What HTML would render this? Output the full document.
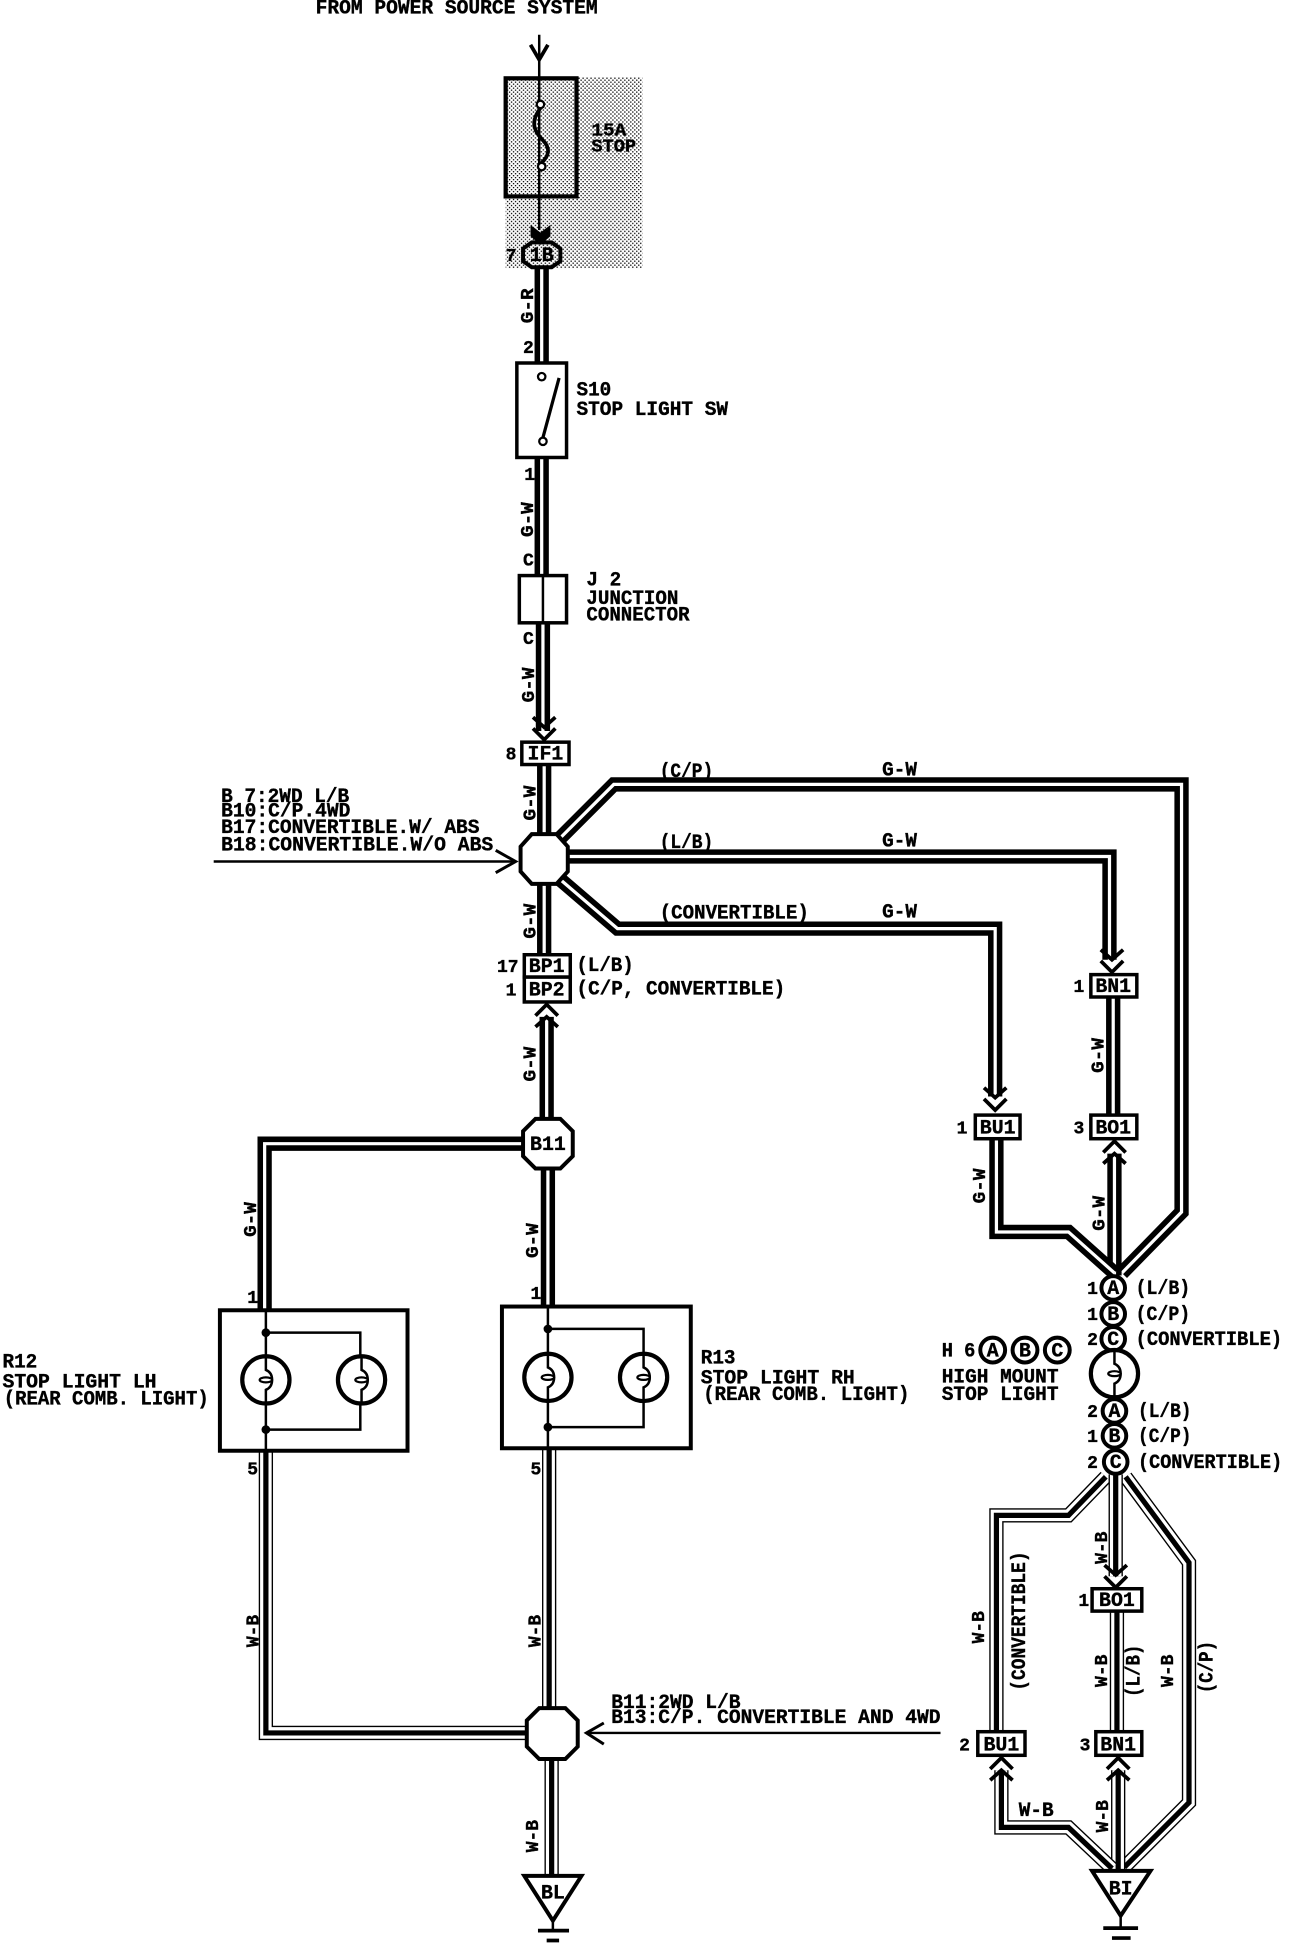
<!DOCTYPE html>
<html><head><meta charset="utf-8"><style>
html,body{margin:0;padding:0;background:#fff}
svg{display:block}
text{font-family:"Liberation Mono",monospace;font-weight:bold;font-size:16px;fill:#000;stroke:#000;stroke-width:.3}
.m{text-anchor:middle}
.s{font-size:14.5px}
.m.s{font-size:16px}
.a,.b,.c,.d,.e,.l,.t{fill:none;stroke-linejoin:miter}
.a{stroke:#000;stroke-width:11.5}
.b{stroke:#fff;stroke-width:2.6}
.c{stroke:#000;stroke-width:11.5}
.d{stroke:#fff;stroke-width:9.3}
.e{stroke:#000;stroke-width:4.2}
.l{stroke:#000;stroke-width:2}
.t{stroke:#000;stroke-width:3}
.n{fill:#fff;stroke:#000;stroke-width:3.2}
</style></head><body>
<svg xmlns="http://www.w3.org/2000/svg" width="1312" height="1948" viewBox="0 0 1056 1567" preserveAspectRatio="none">
<defs>
<pattern id="st" width="3.2" height="3.2" patternUnits="userSpaceOnUse"><rect width="3.2" height="3.2" fill="#fff"/><rect x="0" y="0" width="1.05" height="1.05" fill="#000"/><rect x="1.6" y="1.6" width="1.05" height="1.05" fill="#000"/></pattern>
<g id="dn"><path class="t" d="M-9,-18 L0,-10 L9,-18"/><path class="t" d="M-9,-9 L0,0 L9,-9"/></g>
<g id="up"><path class="t" d="M-9,18 L0,10 L9,18"/><path class="t" d="M-9,9 L0,0 L9,9"/></g>
<g id="bulb"><circle r="19" fill="#fff" stroke="#000" stroke-width="3.4"/><path class="l" d="M0,-19 V-8 Q5,-6 5,0 Q5,6 0,8 V19"/><ellipse cx="0" cy="0" rx="5" ry="2" fill="#fff" stroke="#000" stroke-width="1.8"/></g>
</defs>
<rect width="1056" height="1567" fill="#fff"/>
<rect x="407" y="62" width="110" height="154" fill="url(#st)"/>
<text x="254" y="11" textLength="227" lengthAdjust="spacingAndGlyphs">FROM POWER SOURCE SYSTEM</text>

<!-- fuse -->
<path class="l" d="M434,28 V185"/>
<path class="t" d="M427,36 L434,48 L441,36"/>
<rect x="407" y="63" width="57" height="95" fill="none" stroke="#000" stroke-width="3.4"/>
<path d="M435,87 C425,100 432,107 437,113 C444,120 441,126 436,131" fill="none" stroke="#000" stroke-width="3"/>
<circle cx="435" cy="84" r="3" fill="#fff" stroke="#000" stroke-width="1.8"/>
<circle cx="436" cy="134" r="3" fill="#fff" stroke="#000" stroke-width="1.8"/>
<text x="476" y="109" textLength="28" lengthAdjust="spacingAndGlyphs" class="s">15A</text>
<text x="476" y="122" textLength="36" lengthAdjust="spacingAndGlyphs" class="s">STOP</text>
<polygon points="427,181 435,187 443,181 443,190 435,197 427,190" fill="#000"/>

<!-- main vertical wires -->
<path class="a" d="M436,214 V292"/><path class="b" d="M436,214 V292"/>
<path class="a" d="M436,368 V463"/><path class="b" d="M436,368 V463"/>
<path class="a" d="M437,501 V588"/><path class="b" d="M437,501 V588"/>
<use href="#dn" x="438" y="595"/>
<path class="a" d="M438,615 V675"/><path class="b" d="M438,615 V675"/>
<path class="a" d="M438,705 V770"/><path class="b" d="M438,705 V770"/>
<path class="a" d="M440,818 V905"/><path class="b" d="M440,818 V905"/>
<use href="#up" x="440" y="808"/>
<path class="a" d="M441,935 V1052"/><path class="b" d="M441,935 V1052"/>
<path class="a" d="M425,920 H213 V1054"/><path class="b" d="M425,920 H213 V1054"/>

<!-- branches -->
<path class="a" d="M448,677 L494,631 H951 V975 L903,1024"/><path class="b" d="M448,677 L494,631 H951 V975 L903,1024"/>
<path class="a" d="M452,689 H893 V772"/><path class="b" d="M452,689 H893 V772"/>
<use href="#dn" x="895" y="782"/>
<path class="a" d="M448,705 L497,747 H801 V882"/><path class="b" d="M448,705 L497,747 H801 V882"/>
<use href="#dn" x="801" y="893"/>
<path class="a" d="M896,802 V897"/><path class="b" d="M896,802 V897"/>
<path class="a" d="M897,928 V1026"/><path class="b" d="M897,928 V1026"/>
<use href="#up" x="897" y="918"/>
<path class="a" d="M802,916 V991 H860 L897,1024"/><path class="b" d="M802,916 V991 H860 L897,1024"/>

<!-- W-B wires left -->
<path class="c" d="M214,1167 V1394 H426"/><path class="d" d="M214,1167 V1394 H426"/><path class="e" d="M214,1167 V1394 H426"/>
<path class="c" d="M442,1165 V1376"/><path class="d" d="M442,1165 V1376"/><path class="e" d="M442,1165 V1376"/>
<path class="c" d="M444,1412 V1508"/><path class="d" d="M444,1412 V1508"/><path class="e" d="M444,1412 V1508"/>
<path class="l" d="M172,693 H414"/><path class="t" style="stroke-width:2.4" d="M399,684 L415,693 L399,702"/>
<path class="l" d="M472,1394 H757"/><path class="t" style="stroke-width:2.4" d="M486,1386 L472,1394 L486,1403"/>

<!-- W-B wires right -->
<path class="c" d="M890,1188 L860,1219 H802 V1394"/><path class="d" d="M890,1188 L860,1219 H802 V1394"/><path class="e" d="M890,1188 L860,1219 H802 V1394"/>
<path class="c" d="M906,1188 L957,1257 V1450 L905,1502"/><path class="d" d="M906,1188 L957,1257 V1450 L905,1502"/><path class="e" d="M906,1188 L957,1257 V1450 L905,1502"/>
<path class="c" d="M898,1186 V1268"/><path class="d" d="M898,1186 V1268"/><path class="e" d="M898,1186 V1268"/>
<use href="#dn" x="898" y="1277"/>
<path class="c" d="M899,1296 V1393"/><path class="d" d="M899,1296 V1393"/><path class="e" d="M899,1296 V1393"/>
<path class="c" d="M900,1424 V1505"/><path class="d" d="M900,1424 V1505"/><path class="e" d="M900,1424 V1505"/>
<use href="#up" x="900" y="1414"/>
<path class="c" d="M806,1424 V1470 H860 L895,1503"/><path class="d" d="M806,1424 V1470 H860 L895,1503"/><path class="e" d="M806,1424 V1470 H860 L895,1503"/>
<use href="#up" x="806" y="1414"/>

<!-- 1B -->
<path d="M428,195 H444 L451,200 V210 L444,215 H428 L421,210 V200 Z" fill="none" stroke="#000" stroke-width="3.2"/>
<text class="m s" x="436" y="210">1B</text><text x="407" y="210" class="s">7</text>

<!-- S10 -->
<rect x="416" y="292" width="40" height="76" class="n" style="stroke-width:2.8"/>
<path d="M437,352 L450,304" fill="none" stroke="#000" stroke-width="2.6"/>
<circle cx="436" cy="303" r="3" fill="#fff" stroke="#000" stroke-width="1.8"/>
<circle cx="437" cy="355" r="3" fill="#fff" stroke="#000" stroke-width="1.8"/>
<text x="464" y="318" textLength="28" lengthAdjust="spacingAndGlyphs">S10</text>
<text x="464" y="334" textLength="122" lengthAdjust="spacingAndGlyphs">STOP LIGHT SW</text>
<text x="421" y="284" class="s">2</text><text x="422" y="386" class="s">1</text>

<!-- J2 -->
<rect x="418" y="463" width="38" height="38" class="n" style="stroke-width:2.8"/>
<path class="l" d="M437,463 V501"/>
<text x="472" y="471" textLength="28" lengthAdjust="spacingAndGlyphs">J 2</text>
<text x="472" y="486" textLength="74" lengthAdjust="spacingAndGlyphs">JUNCTION</text>
<text x="472" y="499" textLength="83" lengthAdjust="spacingAndGlyphs">CONNECTOR</text>
<text x="421" y="455" class="s">C</text><text x="421" y="518" class="s">C</text>

<!-- IF1 / octagon / BP -->
<rect x="420" y="597" width="38" height="18" class="n" style="stroke-width:2.8"/>
<text class="m s" x="439" y="611">IF1</text><text x="407" y="611" class="s">8</text>
<polygon points="428,671 448,671 457,681 457,701 448,711 428,711 419,701 419,681" class="n"/>
<text x="178" y="645" textLength="103" lengthAdjust="spacingAndGlyphs">B 7:2WD L/B</text>
<text x="178" y="657" textLength="104" lengthAdjust="spacingAndGlyphs">B10:C/P.4WD</text>
<text x="178" y="670" textLength="208" lengthAdjust="spacingAndGlyphs">B17:CONVERTIBLE.W/ ABS</text>
<text x="178" y="684" textLength="219" lengthAdjust="spacingAndGlyphs">B18:CONVERTIBLE.W/O ABS</text>
<text x="531" y="625" textLength="43" lengthAdjust="spacingAndGlyphs">(C/P)</text>
<text x="710" y="624" textLength="28" lengthAdjust="spacingAndGlyphs">G-W</text>
<text x="531" y="682" textLength="43" lengthAdjust="spacingAndGlyphs">(L/B)</text>
<text x="710" y="681" textLength="28" lengthAdjust="spacingAndGlyphs">G-W</text>
<text x="531" y="739" textLength="120" lengthAdjust="spacingAndGlyphs">(CONVERTIBLE)</text>
<text x="710" y="738" textLength="28" lengthAdjust="spacingAndGlyphs">G-W</text>
<rect x="422" y="768" width="37" height="18" class="n" style="stroke-width:2.8"/>
<rect x="422" y="786" width="37" height="20" class="n" style="stroke-width:2.8"/>
<text class="m s" x="440" y="782">BP1</text><text class="m s" x="440" y="801">BP2</text>
<text x="400" y="782" class="s">17</text><text x="407" y="801" class="s">1</text>
<text x="464" y="781" textLength="46" lengthAdjust="spacingAndGlyphs">(L/B)</text>
<text x="464" y="800" textLength="168" lengthAdjust="spacingAndGlyphs">(C/P, CONVERTIBLE)</text>

<!-- B11 -->
<polygon points="431,900 451,900 461,910 461,930 451,940 431,940 421,930 421,910" class="n"/>
<text class="m s" x="441" y="925">B11</text>

<!-- right connectors top -->
<rect x="878" y="784" width="37" height="18" class="n" style="stroke-width:2.8"/>
<text class="m s" x="896" y="798">BN1</text><text x="864" y="798" class="s">1</text>
<rect x="785" y="897" width="36" height="19" class="n" style="stroke-width:2.8"/>
<text class="m s" x="803" y="912">BU1</text><text x="770" y="912" class="s">1</text>
<rect x="878" y="897" width="37" height="19" class="n" style="stroke-width:2.8"/>
<text class="m s" x="896" y="912">BO1</text><text x="864" y="912" class="s">3</text>

<!-- R12 -->
<rect x="177" y="1054" width="151" height="113" class="n"/>
<path class="l" d="M214,1054 V1167 M214,1072 H290 V1150 H214"/>
<circle cx="214" cy="1072" r="3.5"/><circle cx="214" cy="1150" r="3.5"/>
<use href="#bulb" x="214" y="1110"/><use href="#bulb" x="291" y="1110"/>
<text x="2" y="1100" textLength="28" lengthAdjust="spacingAndGlyphs">R12</text>
<text x="2" y="1116" textLength="124" lengthAdjust="spacingAndGlyphs">STOP LIGHT LH</text>
<text x="3" y="1130" textLength="165" lengthAdjust="spacingAndGlyphs">(REAR COMB. LIGHT)</text>
<text x="199" y="1048" class="s">1</text><text x="199" y="1186" class="s">5</text>

<!-- R13 -->
<rect x="404" y="1051" width="152" height="114" class="n"/>
<path class="l" d="M441,1051 V1165 M441,1069 H518 V1148 H441"/>
<circle cx="441" cy="1069" r="3.5"/><circle cx="441" cy="1148" r="3.5"/>
<use href="#bulb" x="441" y="1108"/><use href="#bulb" x="518" y="1108"/>
<text x="564" y="1097" textLength="28" lengthAdjust="spacingAndGlyphs">R13</text>
<text x="564" y="1113" textLength="124" lengthAdjust="spacingAndGlyphs">STOP LIGHT RH</text>
<text x="566" y="1126" textLength="166" lengthAdjust="spacingAndGlyphs">(REAR COMB. LIGHT)</text>
<text x="427" y="1045" class="s">1</text><text x="427" y="1186" class="s">5</text>

<!-- lower octagon -->
<polygon points="434,1374 455,1374 465,1384 465,1405 455,1415 434,1415 424,1405 424,1384" class="n"/>
<text x="492" y="1374" textLength="104" lengthAdjust="spacingAndGlyphs">B11:2WD L/B</text>
<text x="492" y="1386" textLength="265" lengthAdjust="spacingAndGlyphs">B13:C/P. CONVERTIBLE AND 4WD</text>

<!-- BL ground -->
<polygon points="422,1509 468,1509 445,1545" class="n"/>
<text class="m s" x="445" y="1527">BL</text>
<path class="l" d="M445,1545 V1552"/><path class="t" d="M433,1553 H458 M440,1561 H450"/>

<!-- H6 circles -->
<circle cx="896" cy="1036" r="9.5" class="n"/><text class="m s" x="896" y="1041">A</text>
<circle cx="896" cy="1057" r="9.5" class="n"/><text class="m s" x="896" y="1062">B</text>
<circle cx="896" cy="1077" r="9.5" class="n"/><text class="m s" x="896" y="1082">C</text>
<text x="875" y="1041" class="s">1</text><text x="875" y="1062" class="s">1</text><text x="875" y="1082" class="s">2</text>
<text x="914" y="1041" textLength="44" lengthAdjust="spacingAndGlyphs">(L/B)</text>
<text x="914" y="1062" textLength="44" lengthAdjust="spacingAndGlyphs">(C/P)</text>
<text x="914" y="1082" textLength="118" lengthAdjust="spacingAndGlyphs">(CONVERTIBLE)</text>
<use href="#bulb" x="897" y="1105"/>
<circle cx="897" cy="1135" r="9.5" class="n"/><text class="m s" x="897" y="1140">A</text>
<circle cx="897" cy="1155" r="9.5" class="n"/><text class="m s" x="897" y="1160">B</text>
<circle cx="898" cy="1176" r="9.5" class="n"/><text class="m s" x="898" y="1181">C</text>
<text x="875" y="1140" class="s">2</text><text x="875" y="1160" class="s">1</text><text x="875" y="1181" class="s">2</text>
<text x="916" y="1140" textLength="43" lengthAdjust="spacingAndGlyphs">(L/B)</text>
<text x="916" y="1160" textLength="43" lengthAdjust="spacingAndGlyphs">(C/P)</text>
<text x="916" y="1181" textLength="116" lengthAdjust="spacingAndGlyphs">(CONVERTIBLE)</text>
<text x="758" y="1091" textLength="27" lengthAdjust="spacingAndGlyphs">H 6</text>
<circle cx="799" cy="1086" r="10" class="n"/><text class="m s" x="799" y="1091">A</text>
<circle cx="825" cy="1086" r="10" class="n"/><text class="m s" x="825" y="1091">B</text>
<circle cx="851" cy="1086" r="10" class="n"/><text class="m s" x="851" y="1091">C</text>
<text x="758" y="1112" textLength="94" lengthAdjust="spacingAndGlyphs">HIGH MOUNT</text>
<text x="758" y="1126" textLength="94" lengthAdjust="spacingAndGlyphs">STOP LIGHT</text>

<!-- lower right connectors -->
<rect x="879" y="1278" width="40" height="18" class="n" style="stroke-width:2.8"/>
<text class="m s" x="899" y="1292">BO1</text><text x="868" y="1292" class="s">1</text>
<rect x="787" y="1393" width="38" height="19" class="n" style="stroke-width:2.8"/>
<text class="m s" x="806" y="1408">BU1</text><text x="772" y="1408" class="s">2</text>
<rect x="882" y="1393" width="37" height="19" class="n" style="stroke-width:2.8"/>
<text class="m s" x="900" y="1408">BN1</text><text x="869" y="1408" class="s">3</text>
<text x="820" y="1461" textLength="28" lengthAdjust="spacingAndGlyphs">W-B</text>
<polygon points="879,1505 926,1505 902,1541" class="n"/>
<text class="m s" x="902" y="1524">BI</text>
<path class="l" d="M902,1541 V1551"/><path class="t" d="M888,1551 H916 M895,1559 H910"/>

<!-- rotated labels -->
<g>
<text class="s" transform="translate(429,260) rotate(-90)" textLength="28" lengthAdjust="spacingAndGlyphs">G-R</text>
<text class="s" transform="translate(429,432) rotate(-90)" textLength="28" lengthAdjust="spacingAndGlyphs">G-W</text>
<text class="s" transform="translate(430,565) rotate(-90)" textLength="28" lengthAdjust="spacingAndGlyphs">G-W</text>
<text class="s" transform="translate(431,660) rotate(-90)" textLength="28" lengthAdjust="spacingAndGlyphs">G-W</text>
<text class="s" transform="translate(431,755) rotate(-90)" textLength="28" lengthAdjust="spacingAndGlyphs">G-W</text>
<text class="s" transform="translate(431,870) rotate(-90)" textLength="28" lengthAdjust="spacingAndGlyphs">G-W</text>
<text class="s" transform="translate(206,995) rotate(-90)" textLength="28" lengthAdjust="spacingAndGlyphs">G-W</text>
<text class="s" transform="translate(433,1012) rotate(-90)" textLength="28" lengthAdjust="spacingAndGlyphs">G-W</text>
<text class="s" transform="translate(888,863) rotate(-90)" textLength="28" lengthAdjust="spacingAndGlyphs">G-W</text>
<text class="s" transform="translate(793,968) rotate(-90)" textLength="28" lengthAdjust="spacingAndGlyphs">G-W</text>
<text class="s" transform="translate(889,990) rotate(-90)" textLength="28" lengthAdjust="spacingAndGlyphs">G-W</text>
<text class="s" transform="translate(208,1325) rotate(-90)" textLength="26" lengthAdjust="spacingAndGlyphs">W-B</text>
<text class="s" transform="translate(435,1325) rotate(-90)" textLength="26" lengthAdjust="spacingAndGlyphs">W-B</text>
<text class="s" transform="translate(433,1490) rotate(-90)" textLength="26" lengthAdjust="spacingAndGlyphs">W-B</text>
<text class="s" transform="translate(891,1258) rotate(-90)" textLength="26" lengthAdjust="spacingAndGlyphs">W-B</text>
<text class="s" transform="translate(792,1322) rotate(-90)" textLength="26" lengthAdjust="spacingAndGlyphs">W-B</text>
<text class="s" transform="translate(891,1357) rotate(-90)" textLength="26" lengthAdjust="spacingAndGlyphs">W-B</text>
<text class="s" transform="translate(892,1474) rotate(-90)" textLength="26" lengthAdjust="spacingAndGlyphs">W-B</text>
<text class="s" transform="translate(944,1357) rotate(-90)" textLength="26" lengthAdjust="spacingAndGlyphs">W-B</text>
<text transform="translate(825,1360) rotate(-90)" textLength="112" lengthAdjust="spacingAndGlyphs">(CONVERTIBLE)</text>
<text transform="translate(917,1365) rotate(-90)" textLength="42" lengthAdjust="spacingAndGlyphs">(L/B)</text>
<text transform="translate(976,1362) rotate(-90)" textLength="42" lengthAdjust="spacingAndGlyphs">(C/P)</text>
</g>
</svg>
</body></html>
